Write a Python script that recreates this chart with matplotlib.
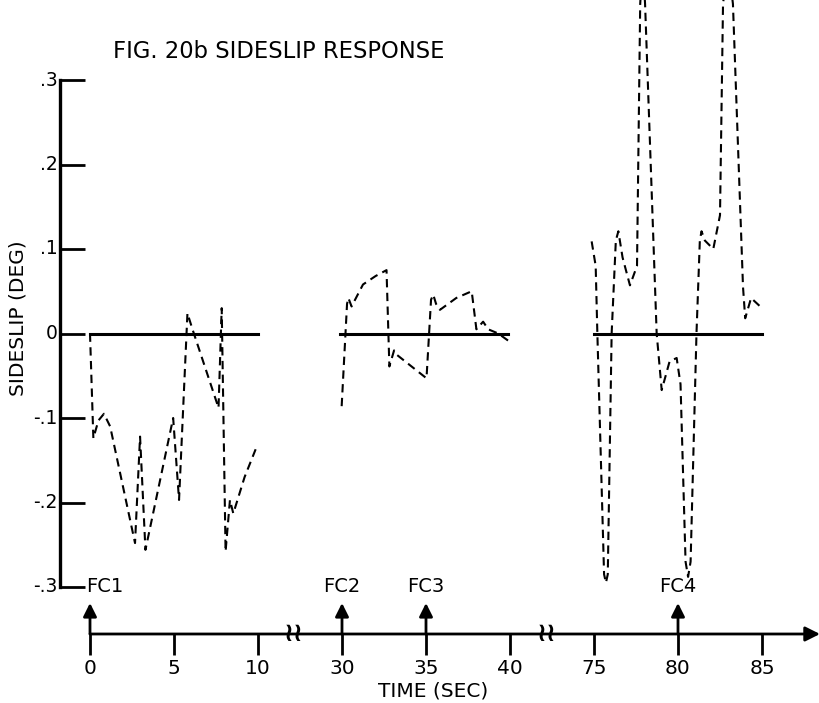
import matplotlib.pyplot as plt
import numpy as np

# sideslip traces (time in sec, sideslip in deg)
seg1_t = [0.0, 0.2, 0.5, 0.83, 1.2, 2.68, 2.98, 3.3, 4.95, 5.3, 5.8, 6.1,
          7.65, 7.84, 8.07, 8.33, 8.53, 9.2, 9.86]
seg1_v = [0.0, -0.124, -0.103, -0.095, -0.11, -0.248, -0.122, -0.256, -0.1,
          -0.197, 0.024, 0.005, -0.088, 0.03, -0.258, -0.197, -0.213, -0.17,
          -0.137]

seg2_t = [29.98, 30.3, 30.38, 30.57, 31.25, 32.0, 32.65, 32.82, 33.1, 33.25,
          35.03, 35.3, 35.43, 35.6, 35.83, 36.8, 37.72, 38.0, 38.4, 38.7,
          39.3, 40.0]
seg2_v = [-0.086, 0.035, 0.042, 0.032, 0.058, 0.068, 0.075, -0.039, -0.02,
          -0.025, -0.053, 0.04, 0.046, 0.035, 0.028, 0.042, 0.05, 0.005,
          0.014, 0.005, 0.0, -0.01]

seg3_t = [74.86, 75.1, 75.2, 75.6, 75.71, 75.82, 76.05, 76.3, 76.45, 76.7,
          77.14, 77.56, 77.75, 77.9, 78.04, 78.73, 79.03, 79.5, 79.92, 80.15,
          80.45, 80.6, 80.75, 81.1, 81.3, 81.4, 81.6, 82.1, 82.5, 82.68,
          82.98, 83.27, 83.87, 84.0, 84.35, 85.0]
seg3_v = [0.109, 0.08, 0.0, -0.285, -0.295, -0.285, 0.0, 0.11, 0.121, 0.09,
          0.057, 0.08, 0.39, 0.44, 0.39, 0.0, -0.067, -0.033, -0.029, -0.06,
          -0.27, -0.288, -0.27, 0.0, 0.11, 0.121, 0.11, 0.1, 0.14, 0.39,
          0.44, 0.39, 0.055, 0.018, 0.042, 0.03]

zero_spans = [(0, 10), (29.9, 39.9), (75, 85)]

y_ticks = [0.3, 0.2, 0.1, 0.0, -0.1, -0.2, -0.3]
y_labels = ['.3', '.2', '.1', '0', '-.1', '-.2', '-.3']
x_ticks = [0, 5, 10, 30, 35, 40, 75, 80, 85]
x_labels = ['0', '5', '10', '30', '35', '40', '75', '80', '85']
fc_times = [0, 30, 35, 80]
fc_labels = ['FC1', 'FC2', 'FC3', 'FC4']
breaks = [12.1, 27.2]   # broken-axis marks (display units)


def tpos(t):
    # squeeze the three time windows together, 5 units apart
    t = np.asarray(t, dtype=float)
    return np.where(t < 20, t, np.where(t < 60, t - 15, t - 45))


PX = 16.8     # pixels per display unit in x
PY = 845.0    # pixels per deg in y
fig = plt.figure(figsize=(8.2, 7.03), dpi=100)
ax = fig.add_axes([0, 0, 1, 1])
ax.set_xlim(-90 / PX, 730 / PX)
ax.set_ylim(-(703 - 333.5) / PY, 333.5 / PY)
ax.axis('off')

k = 'black'
y_axis_u = -30 / PX
t_axis_v = -(634 - 333.5) / PY

# vertical axis with inward ticks
ax.plot([y_axis_u, y_axis_u], [y_ticks[-1], y_ticks[0]], color=k, lw=2.4,
        solid_capstyle='projecting')
ax.hlines(y_ticks, y_axis_u, -0.3, color=k, lw=2.0)
for v, lab in zip(y_ticks, y_labels):
    ax.text(y_axis_u - 0.15, v, lab, ha='right', va='center', fontsize=13.5)
ax.text(-4.3, 0.018, 'SIDESLIP (DEG)', rotation=90,
        ha='center', va='center', fontsize=14.5)

# zero reference lines
for a, b in zero_spans:
    ax.plot(tpos([a, b]), [0, 0], color=k, lw=2.2)

# sideslip traces
for tt, vv in [(seg1_t, seg1_v), (seg2_t, seg2_v), (seg3_t, seg3_v)]:
    ax.plot(tpos(tt), vv, color=k, lw=1.5, linestyle=(0, (4, 2.6)))

# time axis
ax.annotate('', xy=(730 / PX, t_axis_v), xytext=(0, t_axis_v),
            arrowprops=dict(arrowstyle='-|>', color=k, lw=2.0,
                            mutation_scale=22, shrinkA=0, shrinkB=0))
tick_len = 21 / PY
ax.vlines(tpos(x_ticks), t_axis_v - tick_len, t_axis_v, color=k, lw=2.0)
for t, lab in zip(x_ticks, x_labels):
    ax.text(tpos(t), t_axis_v - 34 / PY, lab, ha='center', va='center',
            fontsize=14.5)
for b in breaks:
    ax.text(b, t_axis_v, '≀≀', ha='center', va='center', fontsize=19,
            fontweight='bold')
ax.text(tpos(35) + 0.45, t_axis_v - 57 / PY, 'TIME (SEC)', ha='center',
        va='center', fontsize=14.5)

# flight-condition markers
for t, lab in zip(fc_times, fc_labels):
    ax.annotate('', xy=(tpos(t), t_axis_v + 31 / PY), xytext=(tpos(t), t_axis_v),
                arrowprops=dict(arrowstyle='-|>', color=k, lw=2.0,
                                mutation_scale=20, shrinkA=0, shrinkB=0))
    if t == 0:
        ax.text(tpos(t) - 0.25, -0.3, lab, ha='left', va='center', fontsize=14)
    else:
        ax.text(tpos(t), -0.3, lab, ha='center', va='center', fontsize=14)

ax.text(113 / PX - 90 / PX, (333.5 - 52) / PY, 'FIG. 20b SIDESLIP RESPONSE',
        ha='left', va='center', fontsize=16.3)

fig.savefig('out.png', dpi=100)
